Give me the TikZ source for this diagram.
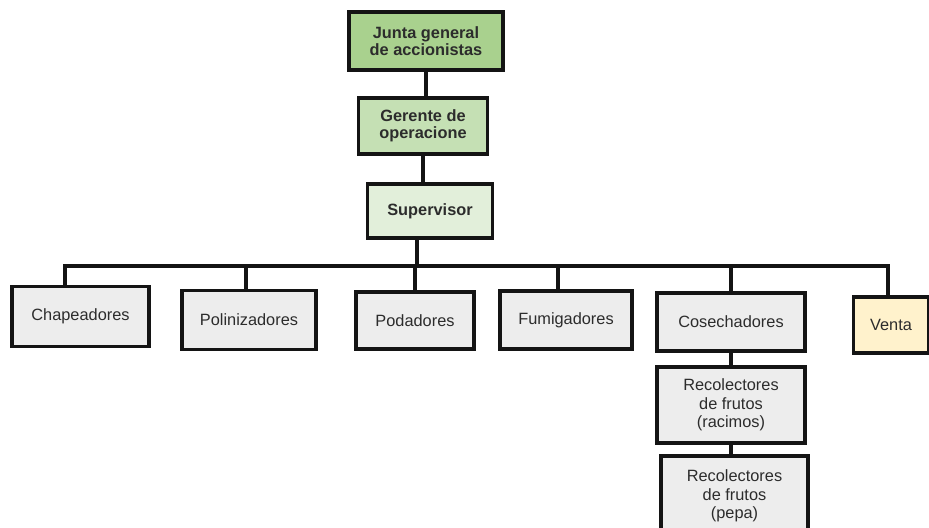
\documentclass[tikz,border=0pt]{standalone}
\usepackage{fontspec}
\setmainfont{Liberation Sans}
\usetikzlibrary{positioning}
\definecolor{boardgreen}{HTML}{A9D18E}
\definecolor{mgrgreen}{HTML}{C5E0B4}
\definecolor{supgreen}{HTML}{E2EFDA}
\definecolor{crewgray}{HTML}{EDEDED}
\definecolor{salesyellow}{HTML}{FFF2CC}
\definecolor{ink}{HTML}{141414}

\begin{document}
\begin{tikzpicture}[x=0.02cm,y=-0.02cm,
    every node/.style={font=\fontsize{9.3}{10.6}\selectfont},
    unit/.style={draw=ink,line width=1.9pt,align=center,inner sep=2pt,text=ink!90},
    head/.style={unit,font=\fontsize{9.3}{9.8}\selectfont\bfseries},
    crew/.style={unit,fill=crewgray},
    link/.style={draw=ink,line width=2pt}]
  \useasboundingbox (0,0) rectangle (929,527);
  \clip (0,0) rectangle (929,527);
  % management chain
  \node[head,fill=boardgreen,minimum width=3.08cm,minimum height=1.16cm] (junta) at (426,41) {Junta general\\de accionistas};
  \node[head,fill=mgrgreen,minimum width=2.58cm,minimum height=1.12cm] (gerente) at (423,126) {Gerente de\\operacione};
  \node[head,fill=supgreen,minimum width=2.5cm,minimum height=1.08cm] (sup) at (430,211) {Supervisor};
  % field crews
  \node[crew,minimum width=2.74cm,minimum height=1.2cm] (chap) at (80.5,316.5) {Chapeadores};
  \node[crew,minimum width=2.68cm,minimum height=1.18cm] (poli) at (249,320) {Polinizadores};
  \node[crew,minimum width=2.36cm,minimum height=1.14cm] (poda) at (415,320.5) {Podadores};
  \node[crew,minimum width=2.64cm,minimum height=1.16cm] (fumi) at (566,320) {Fumigadores};
  \node[crew,minimum width=2.96cm,minimum height=1.16cm] (cose) at (731,322) {Cosechadores};
  \node[unit,fill=salesyellow,minimum width=1.5cm,minimum height=1.12cm] (venta) at (891,325) {Venta};
  \node[crew,minimum width=2.96cm,minimum height=1.52cm] (raci) at (731,405) {Recolectores\\de frutos\\(racimos)};
  \node[crew,minimum width=2.94cm,minimum height=1.6cm] (pepa) at (734.5,496) {Recolectores\\de frutos\\(pepa)};
  % connectors
  \coordinate (busL) at (65,266);
  \coordinate (busR) at (888,266);
  \draw[link] (junta.south) -- (junta.south |- gerente.north);
  \draw[link] (gerente.south) -- (gerente.south |- sup.north);
  \draw[link] ([xshift=-2.6mm]sup.south) -- ([xshift=-2.6mm]sup.south |- busL);
  \draw[link] (chap.north -| busL) -- (busL) -- (busR) -- (venta.north -| busR);
  \draw[link] ([xshift=-0.6mm]poli.north) -- ([xshift=-0.6mm]poli.north |- busL);
  \draw[link] (poda.north) -- (poda.north |- busL);
  \draw[link] ([xshift=-1.6mm]fumi.north) -- ([xshift=-1.6mm]fumi.north |- busL);
  \draw[link] (cose.north) -- (cose.north |- busL);
  \draw[link] (cose.south) -- (raci.north);
  \draw[link] (raci.south) -- (raci.south |- pepa.north);
\end{tikzpicture}
\end{document}
